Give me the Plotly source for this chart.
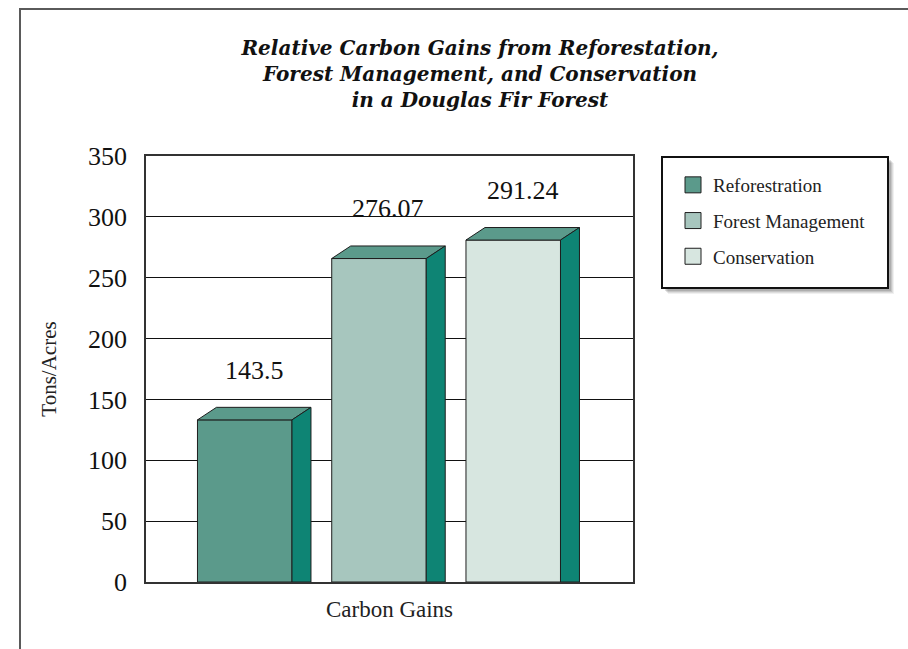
import plotly.graph_objects as go

# ---------------- data ----------------
categories = ["Carbon Gains"]
series_names = ["Reforestration", "Forest Management", "Conservation"]
values = [143.5, 276.07, 291.24]
value_labels = ["143.5", "276.07", "291.24"]
y_ticks = [0, 50, 100, 150, 200, 250, 300, 350]

# ---------------- styles ----------------
SERIF = "Liberation Serif, Times New Roman, serif"
front_colors = ["#5B9A8B", "#A7C6BE", "#D7E6E0"]
side_color = "#0E8474"
top_color = "#5B9A8B"
edge_color = "#1E1E1E"

W, H = 908, 649
M_L, M_R, M_T, M_B = 146, 275, 156, 67
PLOT_W = W - M_L - M_R
PLOT_H = H - M_T - M_B

BARGAP = 0.173
BARGROUPGAP = 0.296
X_SHIFT = 0.0216          # centre of the category relative to plot centre
DEPTH_X = 0.039           # 3-D depth, category units
DEPTH_Y = 10.3            # 3-D depth, value units

n = len(series_names)
group_w = 1 - BARGAP
slot = group_w / n
bar_w = slot * (1 - BARGROUPGAP)


def px_x(p):
    return (p - M_L) / PLOT_W


def px_y(p):
    return 1 - (p - M_T) / PLOT_H


fig = go.Figure()

shapes = []
annotations = []
for i, (name, v, col, lab) in enumerate(zip(series_names, values, front_colors, value_labels)):
    front = v - DEPTH_Y
    fig.add_trace(go.Bar(
        x=categories, y=[front], name=name,
        marker=dict(color=col, line=dict(color=edge_color, width=1)),
        showlegend=False, hoverinfo="skip",
    ))
    # legend entry
    fig.add_trace(go.Scatter(
        x=[None], y=[None], mode="markers", name=name,
        marker=dict(symbol="square", size=16, color=col,
                    line=dict(color=edge_color, width=1)),
        legendgroup=name,
    ))
    c = -group_w / 2 + slot * (i + 0.5)
    L, R = c - bar_w / 2, c + bar_w / 2
    # top face
    shapes.append(dict(
        type="path", xref="x", yref="y", layer="above",
        path=f"M {L},{front} L {L+DEPTH_X},{v} L {R+DEPTH_X},{v} L {R},{front} Z",
        fillcolor=top_color, line=dict(color=edge_color, width=1),
    ))
    # side face
    shapes.append(dict(
        type="path", xref="x", yref="y", layer="above",
        path=f"M {R},0 L {R},{front} L {R+DEPTH_X},{v} L {R+DEPTH_X},0 Z",
        fillcolor=side_color, line=dict(color=edge_color, width=1),
    ))
    annotations.append(dict(
        x=c + DEPTH_X / 2, y=v, xref="x", yref="y", text=lab,
        showarrow=False, yanchor="middle", yshift=37,
        font=dict(family=SERIF, size=26, color="#111"),
    ))

# outer frame (extends past the right / bottom edge of the canvas)
shapes.append(dict(
    type="rect", xref="paper", yref="paper", layer="below",
    x0=px_x(20), x1=px_x(W + 40), y0=px_y(H + 40), y1=px_y(9),
    line=dict(color="#5A5A5A", width=2), fillcolor="rgba(0,0,0,0)",
))
# legend frame with soft shadow
LX0, LY0, LX1, LY1 = 662, 157, 888, 288
for k, a in [(6, 0.06), (5, 0.08), (4, 0.10), (3, 0.12)]:
    shapes.append(dict(
        type="rect", xref="paper", yref="paper", layer="above",
        x0=px_x(LX0 + k), x1=px_x(LX1 + k), y0=px_y(LY1 + k), y1=px_y(LY0 + k),
        line=dict(width=0), fillcolor=f"rgba(0,0,0,{a})",
    ))
shapes.append(dict(
    type="rect", xref="paper", yref="paper", layer="above",
    x0=px_x(LX0), x1=px_x(LX1), y0=px_y(LY1), y1=px_y(LY0),
    line=dict(color="#111", width=2), fillcolor="white",
))

fig.update_layout(
    width=W, height=H,
    margin=dict(l=M_L, r=M_R, t=M_T, b=M_B),
    paper_bgcolor="white", plot_bgcolor="white",
    barmode="group", bargap=BARGAP, bargroupgap=BARGROUPGAP,
    title=dict(
        text="Relative Carbon Gains from Reforestation,<br>Forest Management, and Conservation<br>in a Douglas Fir Forest",
        x=480 / W, xanchor="center", xref="container",
        y=1 - 55 / H, yanchor="middle", yref="container",
        font=dict(family="DejaVu Serif", size=20, color="#111", weight="bold", style="italic"),
    ),
    legend=dict(
        x=px_x(673), y=px_y(166),
        xanchor="left", yanchor="top",
        bgcolor="rgba(0,0,0,0)", borderwidth=0,
        font=dict(family=SERIF, size=19, color="#222"),
        tracegroupgap=8, itemwidth=30,
    ),
    shapes=shapes,
    annotations=annotations,
    font=dict(family=SERIF, color="#111"),
)

fig.update_xaxes(
    range=[-0.5 + X_SHIFT, 0.5 + X_SHIFT],
    showticklabels=False, ticks="",
    showline=True, mirror=True, linecolor="#333", linewidth=1.5,
    showgrid=False, zeroline=False,
    title=dict(text="Carbon Gains", standoff=18,
               font=dict(family=SERIF, size=23, color="#222")),
)
fig.update_yaxes(
    range=[0, 350], tickvals=y_ticks, ticktext=[str(t) for t in y_ticks],
    ticks="", ticklabelstandoff=12,
    tickfont=dict(family=SERIF, size=26, color="#111"),
    showline=True, mirror=True, linecolor="#333", linewidth=1.5,
    showgrid=True, gridcolor="#111", gridwidth=1, zeroline=False,
    title=dict(text="Tons/Acres", standoff=26,
               font=dict(family=SERIF, size=21, color="#222")),
)

fig.write_html("out.html")
